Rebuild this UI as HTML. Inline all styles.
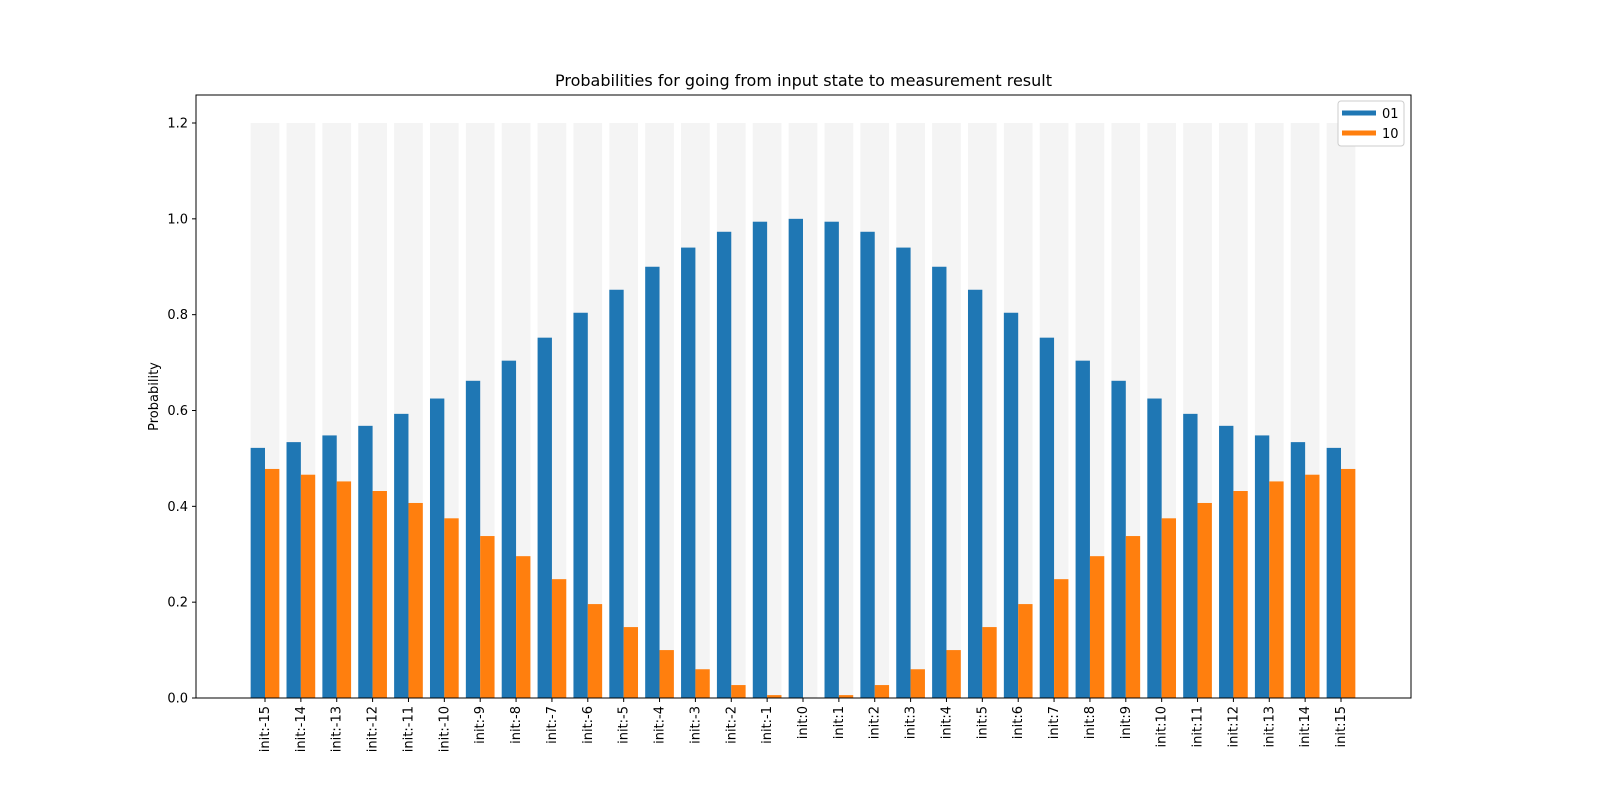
<!DOCTYPE html>
<html><head><meta charset="utf-8"><style>
body{margin:0;background:#fff;}
svg text{font-family:"DejaVu Sans","Liberation Sans",sans-serif;}
</style></head><body>
<svg id="chart" width="1600" height="800" xmlns="http://www.w3.org/2000/svg">
<rect width="1600" height="800" fill="#fff"/>
<g id="plot"></g>
</svg>
<script>
const categories = [];
for (let i = -15; i <= 15; i++) categories.push('init:' + i);
const halfBlue = [0.522,0.534,0.548,0.568,0.593,0.625,0.662,0.704,0.752,0.804,0.852,0.900,0.940,0.973,0.994,1.0];
const series01 = halfBlue.concat(halfBlue.slice(0,15).reverse());
const series10 = series01.map(v => +(1 - v).toFixed(3));
const backgroundValue = 1.2;
const yTicks = [0.0,0.2,0.4,0.6,0.8,1.0,1.2];

const NS = 'http://www.w3.org/2000/svg';
const L=196, R=1411, T=95, B=698;
const x0=265, step=(1341-265)/30;
const y = v => B - v*(B-123)/1.2;
const xc = i => x0 + i*step;
const g = document.getElementById('plot');
function el(tag, attrs, parent){
  const e=document.createElementNS(NS,tag);
  for(const k in attrs) e.setAttribute(k, attrs[k]);
  (parent||g).appendChild(e); return e;
}
const bw = step*0.4;
categories.forEach((c,i)=>{
  const bg = el('rect',{x:xc(i)-bw, y:y(backgroundValue), width:2*bw, height:B-y(backgroundValue), fill:'#f4f4f4'});
  
  
});
categories.forEach((c,i)=>{
  const b1 = el('rect',{x:xc(i)-bw, y:y(series01[i]), width:bw, height:B-y(series01[i]), fill:'#1f77b4'});
  
  
  const b2 = el('rect',{x:xc(i), y:y(series10[i]), width:bw, height:B-y(series10[i]), fill:'#ff7f0e'});
  
  
  el('line',{x1:xc(i),x2:xc(i),y1:B,y2:B+4,stroke:'#000','stroke-width':1});
  const t = el('text',{x:0,y:0,transform:`translate(${xc(i)+4},${B+8}) rotate(-90)`, 'text-anchor':'end','font-size':13,fill:'#000'});
  t.textContent=c;
  
  
});
yTicks.forEach(v=>{
  el('line',{x1:L-4,x2:L,y1:y(v),y2:y(v),stroke:'#000'});
  const t=el('text',{x:L-8,y:y(v)+4.5,'text-anchor':'end','font-size':13});
  t.textContent=v.toFixed(1);
  
  
});
const frame = el('rect',{x:L,y:T,width:R-L,height:B-T,fill:'none',stroke:'#000','stroke-width':1});


const title=el('text',{x:(L+R)/2,y:86,'text-anchor':'middle','font-size':16});
title.textContent='Probabilities for going from input state to measurement result';


const yl=el('text',{x:0,y:0,transform:`translate(158,${(T+B)/2}) rotate(-90)`,'text-anchor':'middle','font-size':13});
yl.textContent='Probability';


const leg=el('g',{});


el('rect',{x:1338,y:101,width:66,height:45,rx:3,fill:'#fff',stroke:'#ccc'},leg);
el('line',{x1:1342,x2:1376,y1:113,y2:113,stroke:'#1f77b4','stroke-width':5},leg);
el('line',{x1:1342,x2:1376,y1:133,y2:133,stroke:'#ff7f0e','stroke-width':5},leg);
const l1=el('text',{x:1382,y:118,'font-size':13},leg); l1.textContent='01';


const l2=el('text',{x:1382,y:138,'font-size':13},leg); l2.textContent='10';


</script>
</body></html>
